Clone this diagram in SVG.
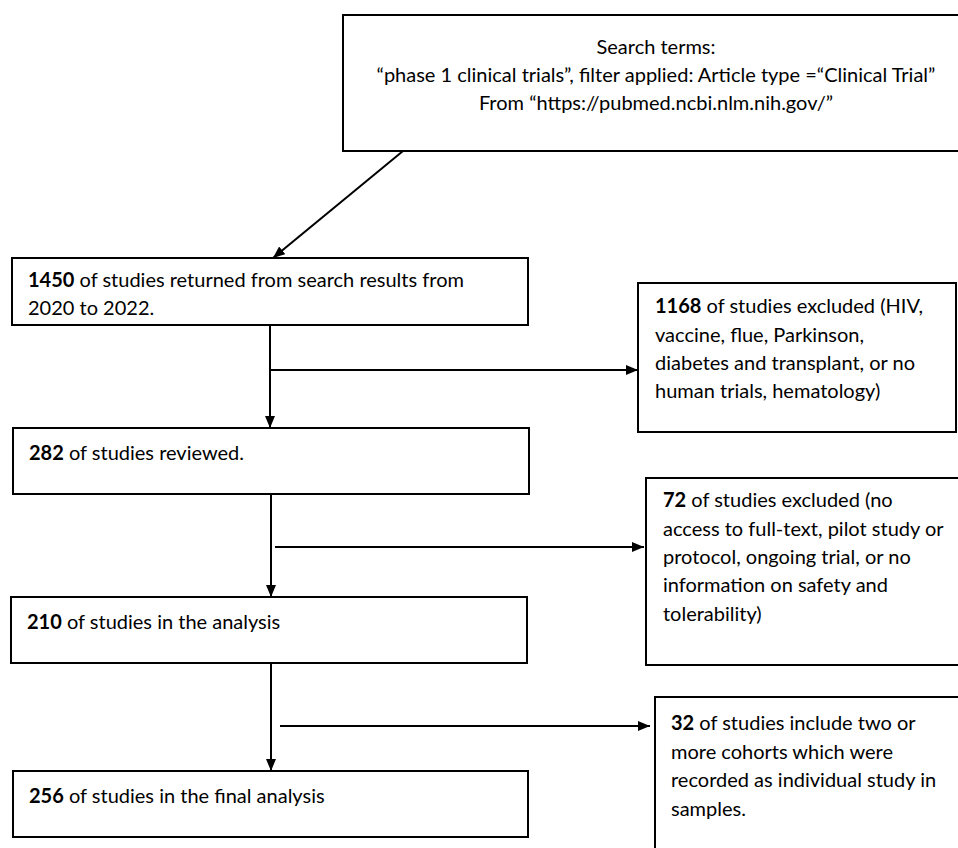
<svg xmlns="http://www.w3.org/2000/svg" width="958" height="848" viewBox="0 0 958 848">
<style>
.box{fill:#fff;stroke:#000;stroke-width:2}
.ln{fill:none;stroke:#000;stroke-width:2}
text{font-family:"Lato","Liberation Sans",sans-serif;font-size:20px;fill:#000}
.b{font-weight:bold}
.c{text-anchor:middle}
</style>
<defs>
<marker id="ah" viewBox="0 0 12 10" refX="12" refY="5" markerWidth="12" markerHeight="10" markerUnits="userSpaceOnUse" orient="auto">
<path d="M0,0 L12,5 L0,10 z" fill="#000"/>
</marker>
</defs>
<rect width="958" height="848" fill="#fff"/>
<g id="connectors">
<line class="ln" x1="403" y1="151" x2="273" y2="258" marker-end="url(#ah)"/>
<line class="ln" x1="270" y1="325" x2="270" y2="428" marker-end="url(#ah)"/>
<line class="ln" x1="270" y1="370" x2="638" y2="370" marker-end="url(#ah)"/>
<line class="ln" x1="271" y1="494" x2="271" y2="597" marker-end="url(#ah)"/>
<line class="ln" x1="275" y1="547" x2="644" y2="547" marker-end="url(#ah)"/>
<line class="ln" x1="271" y1="663" x2="271" y2="771" marker-end="url(#ah)"/>
<line class="ln" x1="280" y1="726" x2="650" y2="726" marker-end="url(#ah)"/>
</g>
<g id="search">
<rect class="box" x="343" y="15" width="625" height="136"/>
<text class="c" x="656" y="54">Search terms:</text>
<text class="c" x="656" y="82">“phase 1 clinical trials”, filter applied: Article type =“Clinical Trial”</text>
<text class="c" x="656" y="110">From “https://pubmed.ncbi.nlm.nih.gov/”</text>
</g>
<g id="returned">
<rect class="box" x="12" y="258" width="516" height="67"/>
<text x="28" y="287"><tspan class="b">1450</tspan> of studies returned from search results from</text>
<text x="28" y="315">2020 to 2022.</text>
</g>
<g id="excluded1">
<rect class="box" x="638" y="283" width="318" height="149"/>
<text x="655" y="313"><tspan class="b">1168</tspan> of studies excluded (HIV,</text>
<text x="655" y="342">vaccine, flue, Parkinson,</text>
<text x="655" y="370">diabetes and transplant, or no</text>
<text x="655" y="398">human trials, hematology)</text>
</g>
<g id="reviewed">
<rect class="box" x="13" y="428" width="516" height="66"/>
<text x="29" y="460"><tspan class="b">282</tspan> of studies reviewed.</text>
</g>
<g id="excluded2">
<rect class="box" x="646" y="478" width="322" height="187"/>
<text x="663" y="507"><tspan class="b">72</tspan> of studies excluded (no</text>
<text x="663" y="536">access to full-text, pilot study or</text>
<text x="663" y="564">protocol, ongoing trial, or no</text>
<text x="663" y="592">information on safety and</text>
<text x="663" y="621">tolerability)</text>
</g>
<g id="analysis">
<rect class="box" x="11" y="597" width="516" height="66"/>
<text x="27" y="629"><tspan class="b">210</tspan> of studies in the analysis</text>
</g>
<g id="cohorts">
<rect class="box" x="655" y="697" width="313" height="160"/>
<text x="671" y="730"><tspan class="b">32</tspan> of studies include two or</text>
<text x="671" y="759">more cohorts which were</text>
<text x="671" y="787">recorded as individual study in</text>
<text x="671" y="816">samples.</text>
</g>
<g id="final">
<rect class="box" x="13" y="771" width="515" height="66"/>
<text x="29" y="803"><tspan class="b">256</tspan> of studies in the final analysis</text>
</g>
</svg>
